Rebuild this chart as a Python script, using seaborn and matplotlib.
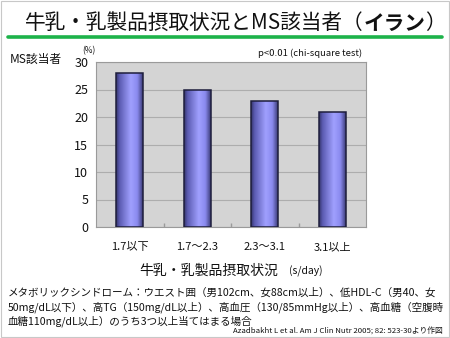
#!/usr/bin/env python3
"""Milk / dairy intake vs. metabolic syndrome prevalence (Iran) bar chart."""
import matplotlib

matplotlib.use("Agg")
import matplotlib.pyplot as plt
import numpy as np
import pandas as pd
import seaborn as sns
from matplotlib.colors import LinearSegmentedColormap
from matplotlib.patches import Rectangle
from matplotlib.lines import Line2D

categories = ["1.7以下", "1.7〜2.3", "2.3〜3.1", "3.1以上"]
ms_percent = [28, 25, 23, 21]
y_ticks = [0, 5, 10, 15, 20, 25, 30]

title_main = "牛乳・乳製品摂取状況とMS該当者（"
title_bold = "イラン"
title_end = "）"
y_title = "MS該当者"
x_title = "牛乳・乳製品摂取状況"
x_unit = "(s/day)"
p_note = "p<0.01 (chi-square test)"
footnote = [
    "メタボリックシンドローム：ウエスト囲（男102cm、女88cm以上）、低HDL-C（男40、女",
    "50mg/dL以下）、高TG（150mg/dL以上）、高血圧（130/85mmHg以上）、高血糖（空腹時",
    "血糖110mg/dL以上）のうち3つ以上当てはまる場合",
]
citation = "Azadbakht L et al. Am J Clin Nutr 2005; 82: 523-30より作図"

sns.set_theme(style="white")
plt.rcParams["font.family"] = ["Noto Sans CJK JP", "DejaVu Sans"]

df = pd.DataFrame({"cat": categories, "val": ms_percent})

W, H = 450, 338
fig = plt.figure(figsize=(4.5, 3.38), dpi=100)
fig.patch.set_facecolor("white")
ax = fig.add_axes([96 / W, 1 - 227 / H, 270 / W, 165 / H])
ax.set_facecolor("#d4d4d4")

sns.barplot(data=df, x="cat", y="val", width=0.4, color="#9999ff",
            edgecolor="none", ax=ax, zorder=2)

# cylinder-like shading on each bar
shade = LinearSegmentedColormap.from_list(
    "shade",
    [(0.0, "#34346a"), (0.12, "#5a5ab0"), (0.55, "#a0a0ff"),
     (0.8, "#8a8aee"), (1.0, "#3c3c78")],
)
grad = np.linspace(0, 1, 64).reshape(1, -1)
for p in list(ax.patches):
    x0, w, h = p.get_x(), p.get_width(), p.get_height()
    im = ax.imshow(grad, cmap=shade, extent=(x0, x0 + w, 0, h),
                   aspect="auto", zorder=3, interpolation="bicubic")
    im.set_clip_path(p)
    ax.add_patch(Rectangle((x0, 0), w, h, fill=False, edgecolor="#1e1e3c",
                           linewidth=1.1, zorder=4))

ax.set_xlim(-0.5, len(categories) - 0.5)
ax.set_ylim(0, 30)
ax.set_yticks(y_ticks)
ax.yaxis.grid(True, color="#adadad", linewidth=0.8)
ax.set_axisbelow(True)
ax.set_xlabel("")
ax.set_ylabel("")
ax.tick_params(axis="y", labelsize=9, length=0, pad=5.5, colors="#111111")
ax.tick_params(axis="x", labelsize=8, length=0, pad=11, colors="#111111")
ax.set_xticks(np.arange(0.5, len(categories) - 1, 1.0), minor=True)
ax.tick_params(axis="x", which="minor", length=3, direction="in",
               color="#9a9a9a", bottom=True)
for s in ax.spines.values():
    s.set_color("#9a9a9a")
    s.set_linewidth(0.8)

# title with bold country name
t1 = fig.text(25 / W, 1 - 29 / H, title_main, fontsize=14.9,
              color="#111111", ha="left", va="baseline")
t2 = ax.annotate(title_bold, xy=(1, 0), xycoords=t1, fontsize=14.9,
                 fontweight="bold", color="#111111", ha="left", va="bottom",
                 annotation_clip=False)
ax.annotate(title_end, xy=(1, 0), xycoords=t2, fontsize=14.9,
            color="#111111", ha="left", va="bottom", annotation_clip=False)
fig.add_artist(Line2D([8 / W, 442 / W], [1 - 37 / H, 1 - 37 / H],
                      color="#1db34a", linewidth=2.6))

fig.text(10 / W, 1 - 59 / H, y_title, fontsize=8.5, ha="left",
         va="center", color="#111111")
fig.text(89 / W, 1 - 51 / H, "(%)", fontsize=6, ha="center",
         va="center", color="#111111")
fig.text(362 / W, 1 - 53 / H, p_note, fontsize=6.8, ha="right",
         va="center", color="#111111")

fig.text(209 / W, 1 - 271 / H, x_title, fontsize=10, ha="center",
         va="center", color="#111111")
fig.text(289 / W, 1 - 271 / H, x_unit, fontsize=7.5, ha="left",
         va="center", color="#111111")

for i, line in enumerate(footnote):
    fig.text(8 / W, 1 - (293 + 14 * i) / H, line, fontsize=7.6,
             ha="left", va="center", color="#111111")
fig.text(443 / W, 1 - 332 / H, citation, fontsize=5.6, ha="right",
         va="center", color="#111111")

fig.add_artist(Rectangle((0.002, 0.002), 0.996, 0.996, fill=False,
                         edgecolor="#c8c8c8", linewidth=0.8,
                         transform=fig.transFigure))

fig.savefig("out.png", dpi=100)
